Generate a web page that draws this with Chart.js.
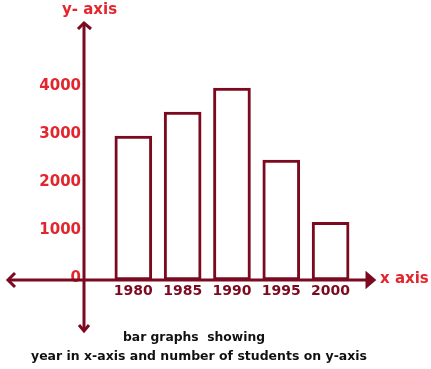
<!DOCTYPE html>
<html>
<head>
<meta charset="utf-8">
<script src="https://cdn.jsdelivr.net/npm/chart.js@4/dist/chart.umd.min.js"></script>
<style>
html,body{margin:0;padding:0;background:#fff;}
canvas{display:block;}
</style>
</head>
<body>
<canvas id="c" width="431" height="369"></canvas>
<script>
const years = [1980, 1985, 1990, 1995, 2000];
const students = [3000, 3500, 4000, 2500, 1200];
const yTickValues = [0, 1000, 2000, 3000, 4000];
const yAxisTitle = 'y- axis';
const xAxisTitle = 'x axis';
const captionLines = ['bar graphs  showing', 'year in x-axis and number of students on y-axis'];

const MAROON = '#7b0a20';
const RED = '#e3262e';
const FONT = '"DejaVu Sans", sans-serif';

const axesPlugin = {
  id: 'axesPlugin',
  afterDatasetsDraw(chart) {
    const ctx = chart.ctx;
    const ys = chart.scales.y;
    const ox = chart.chartArea.left;
    const oy = ys.getPixelForValue(0);
    const top = chart.chartArea.top - 18;
    const bottom = oy + 52;
    const left = ox - 77;
    const right = chart.chartArea.right;
    ctx.save();
    ctx.strokeStyle = MAROON;
    ctx.fillStyle = MAROON;
    ctx.lineWidth = 3;
    ctx.lineCap = 'butt';
    ctx.lineJoin = 'miter';
    ctx.beginPath(); ctx.moveTo(ox, top + 1); ctx.lineTo(ox, bottom - 1); ctx.stroke();
    ctx.beginPath(); ctx.moveTo(left + 1, oy); ctx.lineTo(right - 2, oy); ctx.stroke();
    ctx.beginPath(); ctx.moveTo(ox - 6, top + 7); ctx.lineTo(ox, top + 1); ctx.lineTo(ox + 7, top + 7); ctx.stroke();
    ctx.beginPath(); ctx.moveTo(ox - 5, bottom - 7); ctx.lineTo(ox, bottom - 1); ctx.lineTo(ox + 5, bottom - 7); ctx.stroke();
    ctx.beginPath(); ctx.moveTo(left + 8, oy - 7); ctx.lineTo(left + 1, oy); ctx.lineTo(left + 8, oy + 7); ctx.stroke();
    ctx.beginPath(); ctx.moveTo(right - 7, oy - 6); ctx.lineTo(right, oy); ctx.lineTo(right - 7, oy + 6); ctx.closePath(); ctx.fill(); ctx.stroke();
    ctx.fillStyle = RED;
    ctx.textBaseline = 'alphabetic';
    ctx.textAlign = 'left';
    ctx.font = 'bold 15px ' + FONT;
    ctx.fillText(yAxisTitle, ox - 22, chart.chartArea.top - 26);
    ctx.fillText(xAxisTitle, right + 6, oy + 3);
    ctx.fillStyle = '#111';
    ctx.font = 'bold 12.5px ' + FONT;
    ctx.textAlign = 'center';
    ctx.fillText(captionLines[0], 194, oy + 61, 142);
    ctx.fillText(captionLines[1], 199, oy + 80, 336);
    ctx.restore();
  }
};

new Chart(document.getElementById('c'), {
  type: 'bar',
  data: {
    datasets: [{
      data: years.map((y, i) => ({ x: y, y: students[i] })),
      backgroundColor: '#ffffff',
      borderColor: MAROON,
      borderWidth: 3,
      borderSkipped: false,
      barThickness: 37
    }]
  },
  options: {
    responsive: false,
    animation: false,
    devicePixelRatio: 1,
    layout: { padding: { left: 0, right: 57, top: 40, bottom: 0 } },
    plugins: { legend: { display: false }, tooltip: { enabled: false }, title: { display: false } },
    scales: {
      x: {
        type: 'linear',
        offset: false,
        min: 1975,
        max: 2004.4,
        grid: { display: false, drawTicks: false, offset: false },
        border: { display: false },
        afterBuildTicks: (s) => { s.ticks = years.map(v => ({ value: v })); },
        afterFit: (s) => { s.height = 89; },
        ticks: {
          color: MAROON,
          font: { family: FONT, size: 14, weight: 'bold' },
          padding: 3,
          autoSkip: false,
          maxRotation: 0,
          callback: (v) => String(v)
        }
      },
      y: {
        min: 0,
        max: 5000,
        grid: { display: false, drawTicks: false },
        border: { display: false },
        afterBuildTicks: (s) => { s.ticks = yTickValues.map(v => ({ value: v })); },
        afterFit: (s) => { s.width = 84; },
        ticks: {
          color: RED,
          font: { family: FONT, size: 15, weight: 'bold' },
          padding: 3,
          labelOffset: -2,
          callback: (v) => String(v)
        }
      }
    }
  },
  plugins: [axesPlugin]
});
</script>
</body>
</html>
